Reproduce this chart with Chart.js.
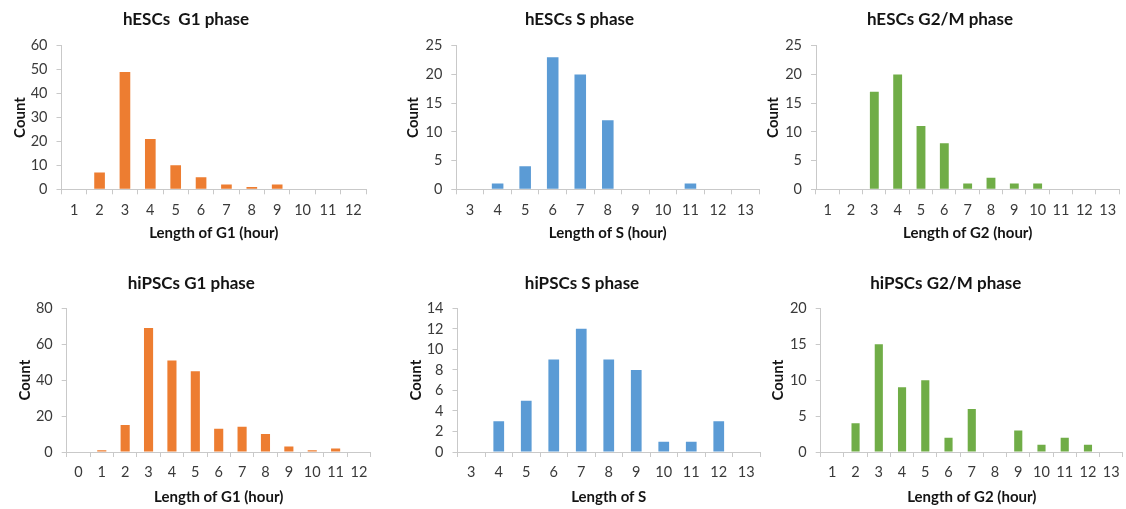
<!DOCTYPE html>
<html>
<head>
<meta charset="utf-8">
<script src="https://cdn.jsdelivr.net/npm/chart.js@4.4.1/dist/chart.umd.min.js"></script>
<style>
  html, body { margin: 0; padding: 0; background: #ffffff; }
  body { width: 1126px; height: 509px; position: relative; overflow: hidden; }
  canvas { position: absolute; }
</style>
</head>
<body>
<canvas id="c1"></canvas>
<canvas id="c2"></canvas>
<canvas id="c3"></canvas>
<canvas id="c4"></canvas>
<canvas id="c5"></canvas>
<canvas id="c6"></canvas>
<script>
// ---- Data ----
const hescG1Labels = ['1','2','3','4','5','6','7','8','9','10','11','12'];
const hescG1Counts = [0, 7, 49, 21, 10, 5, 2, 1, 2, 0, 0, 0];

const hescSLabels = ['3','4','5','6','7','8','9','10','11','12','13'];
const hescSCounts = [0, 1, 4, 23, 20, 12, 0, 0, 1, 0, 0];

const hescG2Labels = ['1','2','3','4','5','6','7','8','9','10','11','12','13'];
const hescG2Counts = [0, 0, 17, 20, 11, 8, 1, 2, 1, 1, 0, 0, 0];

const hipsG1Labels = ['0','1','2','3','4','5','6','7','8','9','10','11','12'];
const hipsG1Counts = [0, 1, 15, 69, 51, 45, 13, 14, 10, 3, 1, 2, 0];

const hipsSLabels = ['3','4','5','6','7','8','9','10','11','12','13'];
const hipsSCounts = [0, 3, 5, 9, 12, 9, 8, 1, 1, 3, 0];

const hipsG2Labels = ['1','2','3','4','5','6','7','8','9','10','11','12','13'];
const hipsG2Counts = [0, 4, 15, 9, 10, 2, 6, 0, 3, 1, 2, 1, 0];

const titles = ['hESCs  G1 phase', 'hESCs S phase', 'hESCs G2/M phase',
                'hiPSCs G1 phase', 'hiPSCs S phase', 'hiPSCs G2/M phase'];
const xTitles = ['Length of G1 (hour)', 'Length of S (hour)', 'Length of G2 (hour)',
                 'Length of G1 (hour)', 'Length of S', 'Length of G2 (hour)'];
const yTitle = 'Count';
const yMax = [60, 25, 25, 80, 14, 20];
const yStep = [10, 5, 5, 20, 2, 5];

// ---- Styles / layout ----
const ORANGE = '#ED7D31', BLUE = '#5B9BD5', GREEN = '#70AD47';
const AXIS = '#c9c9c9';
const FONT = 'Lato, "Open Sans", sans-serif';

const panels = [
  { id:'c1', labels:hescG1Labels, data:hescG1Counts, color:ORANGE, bar:0.42, row:0,
    left:0,   width:374, pl:6,   pr:8,   yW:55.5, yTitlePad:5.0 },
  { id:'c2', labels:hescSLabels,  data:hescSCounts,  color:BLUE,   bar:0.42, row:0,
    left:392, width:375, pl:7.7, pr:7.7, yW:56.6, yTitlePad:4.3 },
  { id:'c3', labels:hescG2Labels, data:hescG2Counts, color:GREEN,  bar:0.38, row:0,
    left:755, width:371, pl:5.7, pr:6.7, yW:55.3, yTitlePad:3.6 },
  { id:'c4', labels:hipsG1Labels, data:hipsG1Counts, color:ORANGE, bar:0.39, row:1,
    left:0,   width:378, pl:11.9, pr:7.3, yW:54.8, yTitlePad:4.1 },
  { id:'c5', labels:hipsSLabels,  data:hipsSCounts,  color:BLUE,   bar:0.39, row:1,
    left:395, width:372, pl:9,   pr:7,   yW:53.5, yTitlePad:3.0 },
  { id:'c6', labels:hipsG2Labels, data:hipsG2Counts, color:GREEN,  bar:0.35, row:1,
    left:762, width:364, pl:5.6, pr:2,   yW:53.1, yTitlePad:1.7 }
];

const rows = [
  { top:0,   height:250, titleTop:9.8,  titleBottom:15.5, xH:60.7, tickPad:7.7, xTitlePad:7.7 },
  { top:258, height:251, titleTop:15.1, titleBottom:14.8, xH:57,   tickPad:6.3, xTitlePad:3.3 }
];

panels.forEach((p, i) => {
  const r = rows[p.row];
  const cv = document.getElementById(p.id);
  cv.width = p.width; cv.height = r.height;
  cv.style.left = p.left + 'px'; cv.style.top = r.top + 'px';
  cv.style.width = p.width + 'px'; cv.style.height = r.height + 'px';

  new Chart(cv.getContext('2d'), {
    type: 'bar',
    data: {
      labels: p.labels,
      datasets: [{
        data: p.data,
        backgroundColor: p.color,
        borderWidth: 0,
        barPercentage: p.bar,
        categoryPercentage: 1.0
      }]
    },
    options: {
      responsive: false,
      animation: false,
      devicePixelRatio: 1,
      layout: { padding: { left: p.pl, right: p.pr, top: 0, bottom: 0 } },
      plugins: {
        legend: { display: false },
        tooltip: { enabled: false },
        title: {
          display: true,
          text: titles[i],
          color: '#141414',
          font: { family: FONT, size: 17, weight: 'bold', lineHeight: 1.2 },
          padding: { top: r.titleTop, bottom: r.titleBottom }
        }
      },
      scales: {
        x: {
          offset: true,
          grid: { display: true, offset: true, drawOnChartArea: false, drawTicks: true,
                  tickLength: 5, color: AXIS, lineWidth: 1 },
          border: { display: true, color: AXIS, width: 1 },
          ticks: { color: '#3a3a3a', padding: r.tickPad, maxRotation: 0, autoSkip: false,
                   font: { family: FONT, size: 14.5, lineHeight: 1.2 } },
          title: { display: true, text: xTitles[i], color: '#141414',
                   font: { family: FONT, size: 15, weight: 'bold', lineHeight: 1.2 },
                   padding: { top: 0, bottom: r.xTitlePad } },
          afterFit: (s) => { s.height = r.xH; }
        },
        y: {
          min: 0, max: yMax[i],
          grid: { display: true, drawOnChartArea: false, drawTicks: true,
                  tickLength: 5, color: AXIS, lineWidth: 1 },
          border: { display: true, color: AXIS, width: 1 },
          ticks: { stepSize: yStep[i], color: '#3a3a3a', padding: 9,
                   font: { family: FONT, size: 14.5, lineHeight: 1.2 } },
          title: { display: true, text: yTitle, color: '#141414',
                   font: { family: FONT, size: 15, weight: 'bold', lineHeight: 1.2 },
                   padding: { top: p.yTitlePad, bottom: 0 } },
          afterFit: (s) => { s.width = p.yW; }
        }
      }
    }
  });
});
</script>
</body>
</html>
